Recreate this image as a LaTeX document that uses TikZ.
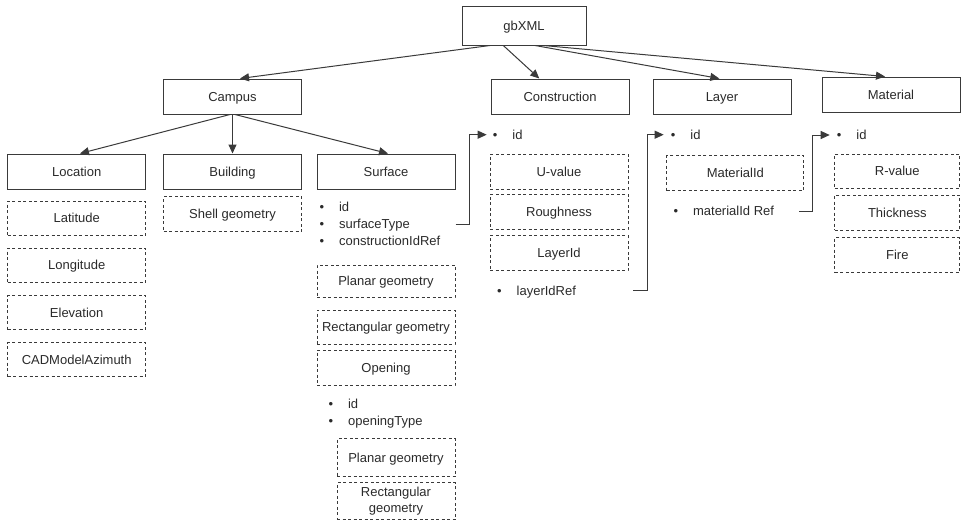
\documentclass[tikz,border=0pt]{standalone}
\usepackage{fontspec}
\setmainfont{Liberation Sans}
\usetikzlibrary{arrows.meta}

\definecolor{linegray}{HTML}{3A3A3A}
\definecolor{textgray}{HTML}{2A2A2A}
\tikzset{
  >={Triangle[length=9pt,width=8pt]},
  plain/.style={draw=linegray, line width=1pt, minimum width=138pt, minimum height=35pt,
    inner sep=0pt, text=textgray, font=\fontsize{13pt}{15.5pt}\selectfont},
  dashbox/.style={plain, dash pattern=on 3pt off 2.5pt},
  elem/.style={plain, text height=12pt, text depth=3pt},
  attr/.style={dashbox, text height=12pt, text depth=3pt},
  item/.style={anchor=west, inner sep=0pt, text=textgray, text height=12pt, text depth=3pt,
    font=\fontsize{13pt}{15.5pt}\selectfont},
  link/.style={draw=linegray, line width=1pt, ->}
}
\newcommand{\itm}[1]{\makebox[19.5pt][l]{\textbullet}#1}

\begin{document}
\begin{tikzpicture}[x=1pt,y=-1pt]
\useasboundingbox (0,0) rectangle (963,522);

\node[elem, minimum width=124pt, minimum height=39pt] (gbxml) at (524,25.5) {gbXML};

\node[elem] (campus) at (232.5,96.5) {Campus};
\node[elem] (constr) at (560,96.5) {Construction};
\node[elem] (layer) at (722,96.5) {Layer};
\node[elem] (material) at (891,94.5) {Material};

\node[elem] (location) at (76.7,171.5) {Location};
\node[elem] (building) at (232.5,171.5) {Building};
\node[elem] (surface) at (386,171.5) {Surface};

\node[attr, minimum height=34pt] (latitude) at (76.7,218) {Latitude};
\node[attr, minimum height=34pt] (longitude) at (76.7,265) {Longitude};
\node[attr, minimum height=34pt] (elevation) at (76.7,312.5) {Elevation};
\node[attr, minimum height=34pt] (azimuth) at (76.7,359.5) {CADModelAzimuth};

\node[attr] (shell) at (232.5,214.2) {Shell geometry};

\node[item] (sid) at (319.4,207) {\itm{id}};
\node[item] (stype) at (319.4,224) {\itm{surfaceType}};
\node[item] (sref) at (319.4,241) {\itm{constructionIdRef}};
\node[attr, minimum height=32pt] (splanar) at (386,281) {Planar geometry};
\node[attr, minimum height=34pt] (srect) at (386,327) {Rectangular geometry};
\node[attr] (opening) at (386,367.5) {Opening};
\node[item] (oid) at (328.4,404) {\itm{id}};
\node[item] (otype) at (328.4,421) {\itm{openingType}};
\node[attr, minimum width=118pt, minimum height=38pt] (oplanar) at (396,457.5) {Planar geometry};
\node[dashbox, minimum width=118pt, minimum height=37pt, align=center] (orect) at (396,501.3) {Rectangular\\geometry};

\node[item] (cid) at (492.7,134.7) {\itm{id}};
\node[attr] (uvalue) at (559,171.5) {U-value};
\node[attr] (rough) at (559,211.8) {Roughness};
\node[attr] (layerid) at (559,253.3) {LayerId};
\node[item] (lref) at (497,290.7) {\itm{layerIdRef}};

\node[item] (lid) at (670.7,134.7) {\itm{id}};
\node[attr, minimum width=137pt] (matid) at (735.3,173.2) {MaterialId};
\node[item] (mref) at (673.4,211) {\itm{materialId Ref}};

\node[item] (mid) at (836.7,135) {\itm{id}};
\node[attr, minimum width=125pt, minimum height=34pt] (rvalue) at (897.3,171.2) {R-value};
\node[attr, minimum width=125pt] (thick) at (897.3,212.5) {Thickness};
\node[attr, minimum width=125pt] (fire) at (897.3,255.2) {Fire};

\draw[link] ([xshift=-34pt]gbxml.south) -- ([xshift=7.5pt]campus.north);
\draw[link] ([xshift=-20.7pt]gbxml.south) -- ([xshift=-20.7pt]constr.north);
\draw[link] ([xshift=11pt]gbxml.south) -- ([xshift=-2.7pt]layer.north);
\draw[link] ([xshift=19.3pt]gbxml.south) -- ([xshift=-6pt]material.north);

\draw[link] ([xshift=-2.5pt]campus.south) -- ([xshift=3.3pt]location.north);
\draw[link] (campus.south) -- (building.north);
\draw[link] ([xshift=2.5pt]campus.south) -- ([xshift=2pt]surface.north);

\draw[link] (surface.east |- stype) -- ++(14,0) |- ([xshift=-6pt]cid.west);
\draw[link] ([xshift=4.5pt]uvalue.east |- lref) -- ++(14,0) |- ([xshift=-7pt]lid.west);
\draw[link] ([xshift=-5pt]matid.east |- mref) -- ++(13,0) |- ([xshift=-7pt]mid.west);
\end{tikzpicture}
\end{document}
